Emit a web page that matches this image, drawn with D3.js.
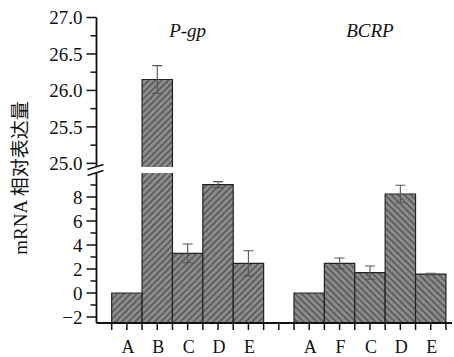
<!DOCTYPE html>
<html><head><meta charset="utf-8">
<script src="https://cdn.jsdelivr.net/npm/d3@7"></script>
<style>body{margin:0;background:#fff}svg{display:block}</style>
</head><body><svg id="c" width="454" height="357"></svg>
<script>
const groupNames = ["P-gp", "BCRP"];
const pgpCats = ["A", "B", "C", "D", "E"];
const pgpVals = [0, 26.15, 3.3, 9.03, 2.47];
const pgpErr  = [0, 0.19, 0.78, 0.25, 1.05];
const bcrpCats = ["A", "F", "C", "D", "E"];
const bcrpVals = [0, 2.47, 1.7, 8.25, 1.58];
const bcrpErr  = [0, 0.45, 0.55, 0.73, 0.07];
const lowTicks = [-2, 0, 2, 4, 6, 8];
const upTicks = [25.0, 25.5, 26.0, 26.5, 27.0];
const yTitle = "mRNA 相对表达量";

const FONT = "'Liberation Serif', 'DejaVu Serif', 'Times New Roman', 'Noto Sans CJK SC', serif";
const svg = d3.select("#c").attr("font-family", FONT);
const x = d3.scaleLinear().domain([0, 11.7]).range([96.5, 452]);
const yLow = d3.scaleLinear().domain([-2.5, 10]).range([323, 173]);
const yUp = d3.scaleLinear().domain([24.95, 27]).range([167, 17.5]);

const defs = svg.append("defs");
function hatch(id, angle){
  const p = defs.append("pattern").attr("id", id).attr("patternUnits","userSpaceOnUse")
    .attr("width", 4.6).attr("height", 10).attr("patternTransform", `rotate(${angle})`);
  p.append("rect").attr("width", 4.6).attr("height", 10).attr("fill", "#8c8c8c");
  p.append("line").attr("x1", 1).attr("x2", 1).attr("y1", 0).attr("y2", 10)
    .attr("stroke", "#4a4a4a").attr("stroke-width", 1.3);
}
hatch("hp", 45);
hatch("hb", -45);

const bars = [];
pgpCats.forEach((c,i)=>bars.push({cat:c, v:pgpVals[i], e:pgpErr[i], pos:1+i, pat:"hp"}));
bcrpCats.forEach((c,i)=>bars.push({cat:c, v:bcrpVals[i], e:bcrpErr[i], pos:7+i, pat:"hb"}));

const g = svg.append("g");
bars.forEach(b=>{
  const x0 = x(b.pos-0.5), x1 = x(b.pos+0.5);
  const yb = yLow(-2.5);
  const broken = b.v > yLow.domain()[1];
  const yt = broken ? yLow(yLow.domain()[1]) : yLow(b.v);
  g.append("rect").attr("x", x0).attr("y", yt).attr("width", x1-x0).attr("height", yb-yt)
    .attr("fill", `url(#${b.pat})`);
  g.append("path").attr("d", broken ? `M${x0},${yt}V${yb}H${x1}V${yt}` : `M${x0},${yb}V${yt}H${x1}V${yb}`)
    .attr("fill","none").attr("stroke","#222").attr("stroke-width",1.2);
  if (broken){
    const ut = yUp(b.v), ub = yUp(yUp.domain()[0]);
    g.append("rect").attr("x", x0).attr("y", ut).attr("width", x1-x0).attr("height", ub-ut)
      .attr("fill", `url(#${b.pat})`);
    g.append("path").attr("d", `M${x0},${ub}V${ut}H${x1}V${ub}`)
      .attr("fill","none").attr("stroke","#222").attr("stroke-width",1.2);
  }
  if (b.e > 0){
    const ys = broken ? yUp : yLow;
    const cx = x(b.pos);
    const e1 = ys(b.v + b.e), e2 = ys(b.v - b.e);
    g.append("path").attr("d", `M${cx},${e1}V${e2}M${cx-5},${e1}H${cx+5}M${cx-5},${e2}H${cx+5}`)
      .attr("fill","none").attr("stroke","#555").attr("stroke-width",1.1);
  }
});

// Y axis lower
const axL = svg.append("g").attr("transform", `translate(${x(0)},0)`);
axL.append("path").attr("d", `M0,${yLow(-2.5)}V${yLow(10)}`).attr("stroke","#111").attr("stroke-width",1.8);
d3.range(-2, 10).forEach(v=>{
  const major = lowTicks.includes(v);
  axL.append("line").attr("x1", major?-10:-6).attr("x2",0).attr("y1",yLow(v)).attr("y2",yLow(v))
    .attr("stroke","#111").attr("stroke-width",1.5);
});
lowTicks.forEach(v=>{
  axL.append("text").attr("x",-14).attr("y",yLow(v)).attr("dy","0.35em").attr("text-anchor","end")
    .attr("font-size",19).attr("fill","#111").text(v<0?"\u2212"+Math.abs(v):v);
});
// Y axis upper
axL.append("path").attr("d", `M0,${yUp(24.95)}V${yUp(27)}`).attr("stroke","#111").attr("stroke-width",1.8);
d3.range(0, 9).map(i=>25+i*0.25).forEach(v=>{
  const major = upTicks.some(t=>Math.abs(t-v)<1e-9);
  axL.append("line").attr("x1", major?-10:-6).attr("x2",0).attr("y1",yUp(v)).attr("y2",yUp(v))
    .attr("stroke","#111").attr("stroke-width",1.5);
});
upTicks.forEach(v=>{
  axL.append("text").attr("x",-14).attr("y",yUp(v)).attr("dy","0.35em").attr("text-anchor","end")
    .attr("font-size",19).attr("fill","#111").text(v.toFixed(1));
});
// break marks
[yUp(24.95), yLow(10)].forEach(yy=>{
  axL.append("line").attr("x1",-9).attr("x2",7).attr("y1",yy+2.5).attr("y2",yy-2.5)
    .attr("stroke","#111").attr("stroke-width",1.5);
});

// X axis
const axX = svg.append("g").attr("transform", `translate(0,${yLow(-2.5)})`);
axX.append("path").attr("d", `M${x(0)},0H${x(11.7)}`).attr("stroke","#111").attr("stroke-width",1.8);
d3.range(1, 24).map(i=>i*0.5).forEach(p=>{
  axX.append("line").attr("x1",x(p)).attr("x2",x(p)).attr("y1",0).attr("y2",7)
    .attr("stroke","#111").attr("stroke-width",1.5);
});
bars.forEach(b=>{
  axX.append("text").attr("x", x(b.pos)+1).attr("y", 30).attr("text-anchor","middle")
    .attr("font-size",18).attr("fill","#111").text(b.cat);
});

// group titles
svg.append("text").attr("x", x(3)).attr("y", 37).attr("text-anchor","middle")
  .attr("font-size",19).attr("font-style","italic").attr("fill","#111").text(groupNames[0]);
svg.append("text").attr("x", x(9)).attr("y", 37).attr("text-anchor","middle")
  .attr("font-size",19).attr("font-style","italic").attr("fill","#111").text(groupNames[1]);

// y title
svg.append("text").attr("transform","translate(27,178) rotate(-90)").attr("text-anchor","middle")
  .attr("font-size",19).attr("fill","#111").text(yTitle);
</script></body></html>
